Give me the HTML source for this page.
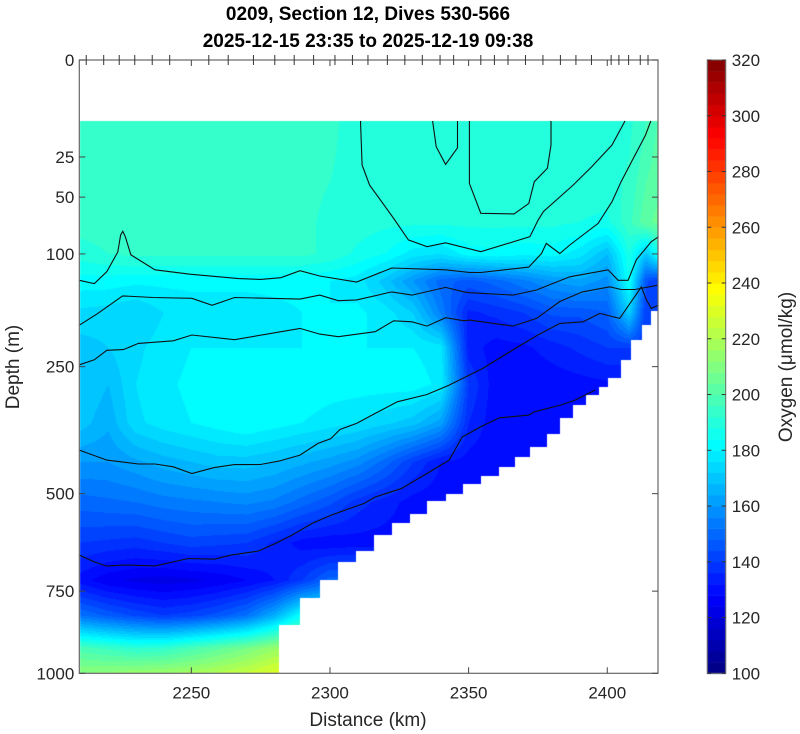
<!DOCTYPE html>
<html><head><meta charset="utf-8"><title>Oxygen section</title>
<style>
html,body{margin:0;padding:0;background:#fff;}
#wrap{position:relative;width:800px;height:734px;overflow:hidden;font-family:"Liberation Sans",sans-serif;}
#heat{position:absolute;left:0;top:0;}
#ov{position:absolute;left:0;top:0;}
</style></head>
<body>
<div id="wrap">
<canvas id="heat" width="800" height="734"></canvas>
<svg id="ov" width="800" height="734" xmlns="http://www.w3.org/2000/svg">
  <text x="368" y="20" text-anchor="middle" font-size="19" font-weight="bold" fill="#000">0209, Section 12, Dives 530-566</text>
  <text x="368" y="47" text-anchor="middle" font-size="19" font-weight="bold" fill="#000">2025-12-15 23:35 to 2025-12-19 09:38</text>
  <text x="368" y="726" text-anchor="middle" font-size="19" fill="#262626">Distance (km)</text>
  <text transform="translate(19,367) rotate(-90)" text-anchor="middle" font-size="19" fill="#262626">Depth (m)</text>
  <text transform="translate(792,367) rotate(-90)" text-anchor="middle" font-size="19" fill="#262626">Oxygen (μmol/kg)</text>
  <g id="contours"></g>
  <g id="axes"></g>
  <g id="cbar"></g>
</svg>
</div>
<script>
// ---- data ----
const distCols = [2210,2220,2230,2240,2250,2260,2270,2280,2290,2300,2310,2320,2330,2340,2350,2360,2370,2380,2390,2400,2408,2414,2418];
const depthRows = [10,40,70,100,130,170,220,280,350,430,520,620,720,820,920,1000];
const oxy10   = [194,194,194,194,194,194,194,194,194,193,190,190,190,190,190,190,190,190,190,190,191,196,200];
const oxy40   = [194,194,194,194,194,193,192,193,193,192,190,190,190,190,190,190,190,190,190,190,193,200,203];
const oxy70   = [194,194,194,194,194,193,192,192,193,191,190,189,189,189,189,189,189,189,188,187,195,203,205];
const oxy100  = [190,192,193,193,193,193,193,193,193,191,187,184,178,176,182,183,181,182,178,168,188,170,185];
const oxy130  = [182,182,181,181,181,181,181,181,181,180,178,170,160,150,146,150,155,160,163,158,185,145,140];
const oxy170  = [175,174,172,176,178,178,178,179,180,180,181,178,172,155,135,137,140,145,145,148,172,140,140];
const oxy220  = [170,172,175,178,180,180,180,180,180,180,180,180,180,178,134,130,131,134,137,140,140,140,140];
const oxy280  = [172,168,176,179,181,182,182,183,183,182,182,182,182,179,140,129,128,129,130,131,131,131,131];
const oxy350  = [170,165,175,178,180,182,184,182,180,178,176,173,170,162,136,129,128,129,129,129,129,129,129];
const oxy430  = [160,160,163,166,168,170,170,168,165,162,158,150,140,132,130,129,129,129,129,129,129,129,129];
const oxy520  = [150,151,152,154,155,156,157,155,150,145,138,134,130,129,129,129,129,129,129,129,129,129,129];
const oxy620  = [140,139,138,140,142,141,140,135,130,129,130,130,130,130,130,130,130,130,130,130,130,130,130];
const oxy720  = [130,125,123,122,123,125,128,132,140,150,150,150,150,150,150,150,150,150,150,150,150,150,150];
const oxy820  = [152,147,143,140,142,146,152,165,185,185,185,185,185,185,185,185,185,185,185,185,185,185,185];
const oxy920  = [198,195,192,193,198,203,208,215,220,220,220,220,220,220,220,220,220,220,220,220,220,220,220];
const oxy1000 = [212,213,215,216,218,221,225,230,232,232,232,232,232,232,232,232,232,232,232,232,232,232,232];
const oxyRows = [oxy10,oxy40,oxy70,oxy100,oxy130,oxy170,oxy220,oxy280,oxy350,oxy430,oxy520,oxy620,oxy720,oxy820,oxy920,oxy1000];
const bottomEdgesKm = [2281.6,2289.2,2296.3,2303,2309.4,2315.9,2322.3,2328.7,2335.1,2341.7,2348.1,2354.4,2360.8,2366.8,2372.1,2378.1,2383.1,2387.7,2392.4,2396.9,2400.4,2405.1,2408.5,2412.5,2415.8];
const bottomDepths = [1000,849,770,719,670,641,600,569,548,518,500,479,460,440,420,399,371,341,317,298,285,269,239,208,187,168];
const topDepth = 9.9;
const diveTicksKm = [2212.1,2218.4,2224,2229.6,2235.9,2242.2,2256.3,2263.3,2272.4,2280.1,2287.1,2294.1,2301.8,2308.1,2313.7,2320.7,2327,2333.3,2339.7,2344.6,2354.4,2359.3,2364.2,2370.5,2376.8,2383.1,2388.7,2394.3,2401.4,2404.2,2407.7,2411.9,2414.7];
const xTicks = [2250,2300,2350,2400];
const xTickLabels = ['2250','2300','2350','2400'];
const yTicks = [0,25,50,100,250,500,750,1000];
const yTickLabels = ['0','25','50','100','250','500','750','1000'];
const cbTicks = [100,120,140,160,180,200,220,240,260,280,300,320];
const cbTickLabels = ['100','120','140','160','180','200','220','240','260','280','300','320'];
// contour lines: distance (km) and depth (m)
const cAkm = [2209.6,2215,2219.5,2223.5,2224.5,2225.3,2226.2,2228.2,2236.9,2249.5,2267,2275,2282.3,2289.2,2296.3,2309.6,2322.3,2341.7,2350.4,2354.4,2371.7,2376.3,2378,2382.9,2386.5,2396.7,2401.7,2405,2413.8,2415.7];
const cAdep = [129,133,119,98,81.5,78,83,101,117,122,127,128,126,118,124,131,115,117,120,120,114,99.5,89.4,99.5,91,71,53.4,39.4,15,9.9];
const cUkm = [2311,2311.6,2314.3,2323,2328.3,2335,2341.7,2354.4,2372.1,2375.1,2377,2387.7,2394.4,2401.7,2406.4];
const cUdep = [9.9,29.3,41.6,66.7,86,92.7,88.8,97.7,83,68,61,41.6,30.3,19.2,9.9];
const cIkm = [2350.3,2350.3,2354.4,2366.4,2371.7,2373.7,2378.4,2379.7,2379.7];
const cIdep = [9.9,40.5,62.5,63,54.7,39.4,31.2,19.2,9.9];
const cVkm = [2337,2338.3,2341.7,2346,2346];
const cVdep = [9.9,20,29,20.5,9.9];
const cBkm = [2209.6,2216.2,2225.2,2236.2,2250.2,2257.5,2265.6,2289.2,2296.3,2303,2309.6,2322.3,2329.6,2341.7,2348.4,2350.4,2366,2374.5,2386.5,2400.3,2403.9,2407.5,2410.5,2415.9,2418.5];
const cBdep = [187,171,148,150,151,160,150,152,147,154,153,143,147,137.5,143,144,147,140.7,125,117,129,129,106,87.8,83];
const cCkm = [2209.6,2215,2219.5,2225.5,2230.9,2243.5,2250.2,2265.6,2289.2,2296.3,2303,2316.3,2323,2329.6,2335,2341.7,2348.4,2350.4,2366,2374.5,2382.9,2391,2400.9,2405,2410,2418];
const cCdep = [247,239,224,223,213.5,209.7,201,208,191.5,199.7,203.6,196.3,180.8,182.2,188.3,176.6,180.8,179.8,188.3,177.5,155,143,136.7,140,140,135];
const cDkm = [2209.6,2219.5,2230.9,2236.9,2243.5,2250.2,2258.2,2265.6,2274.9,2281.6,2289.2,2295.6,2300.3,2303.6,2309.6,2316.3,2324.3,2335,2343,2355,2367.7,2375,2382.9,2391.3,2397.3,2404.5,2412.3,2414.1,2415.9,2418.5];
const cDdep = [404.5,425.6,434,434,440,454.6,441.8,435.2,435,427.7,415,391,381,363,351,332,310.6,297.5,281,253,219,201,184.4,182.2,170.7,177.5,136.7,153,164,159.7];
const cEkm = [2209.6,2215,2219.5,2225.5,2236.9,2248.9,2258.2,2264.3,2274.2,2280.3,2286.3,2293.6,2300.3,2312.3,2316.3,2325.6,2335,2343,2347.7,2354.4,2361.1,2371.7,2373.7,2383.1,2388.4,2395.7];
const cEdep = [651.6,669.8,681,678,680.5,660.6,662.4,651.6,641,621.6,600,570.8,551,522.6,507.6,488.6,454.6,425.6,377.8,357.7,340.3,335.2,329,316.6,307.5,289.6];

// ---- axes ----
const PX0=79.3, PX1=658, PY0=60, PY1=673.3, KM0=2209.6, KM1=2418.3;
function xScale(km){return PX0+(km-KM0)/(KM1-KM0)*(PX1-PX0);}
function yScale(d){return PY0+Math.sqrt(Math.max(d,0))/Math.sqrt(1000)*(PY1-PY0);}
function invX(px){return KM0+(px-PX0)/(PX1-PX0)*(KM1-KM0);}
function invY(py){const s=(py-PY0)/(PY1-PY0)*Math.sqrt(1000);return s*s;}
const CBX0=707.3, CBX1=725.7, CBY0=60, CBY1=673.3, VMIN=100, VMAX=320;
function cbScale(v){return CBY1-(v-VMIN)/(VMAX-VMIN)*(CBY1-CBY0);}
function jet(t){const c=x=>Math.max(0,Math.min(1,x));
  return [c(1.5-Math.abs(4*t-3)),c(1.5-Math.abs(4*t-2)),c(1.5-Math.abs(4*t-1))].map(v=>Math.round(v*255));}
const NLEV=55;
function colorFor(v){let l=Math.floor((v-VMIN)/(VMAX-VMIN)*NLEV);l=Math.max(0,Math.min(NLEV-1,l));return jet((l+0.5)/NLEV);}
function locate(arr,v){if(v<=arr[0])return [0,0];if(v>=arr[arr.length-1])return [arr.length-2,1];
  for(let i=0;i<arr.length-1;i++){if(v<=arr[i+1])return [i,(v-arr[i])/(arr[i+1]-arr[i])];}}
function field(km,d){const [ci,cf]=locate(distCols,km);const [ri,rf]=locate(depthRows,d);
  const a=oxyRows[ri][ci],b=oxyRows[ri][ci+1],c=oxyRows[ri+1][ci],e=oxyRows[ri+1][ci+1];
  return (a*(1-cf)+b*cf)*(1-rf)+(c*(1-cf)+e*cf)*rf;}
function bottomAt(km){for(let i=0;i<bottomEdgesKm.length;i++){if(km<bottomEdgesKm[i])return bottomDepths[i];}return bottomDepths[bottomDepths.length-1];}

// heatmap
const cv=document.getElementById('heat');const ctx=cv.getContext('2d');
ctx.fillStyle='#fff';ctx.fillRect(0,0,800,734);
const x0=Math.ceil(PX0),x1=Math.floor(PX1),y0=Math.ceil(PY0),y1=Math.floor(PY1);
const img=ctx.createImageData(x1-x0,y1-y0);
for(let py=y0;py<y1;py++){const d=invY(py+0.5);
  for(let px=x0;px<x1;px++){const km=invX(px+0.5);const k=((py-y0)*(x1-x0)+(px-x0))*4;
    if(d<topDepth||d>bottomAt(km)){img.data[k]=255;img.data[k+1]=255;img.data[k+2]=255;img.data[k+3]=255;continue;}
    const col=colorFor(field(km,d));img.data[k]=col[0];img.data[k+1]=col[1];img.data[k+2]=col[2];img.data[k+3]=255;}}
ctx.putImageData(img,x0,y0);
// colorbar
for(let l=0;l<NLEV;l++){const v0=VMIN+l*(VMAX-VMIN)/NLEV,v1=VMIN+(l+1)*(VMAX-VMIN)/NLEV;const c=jet((l+0.5)/NLEV);
  ctx.fillStyle='rgb('+c[0]+','+c[1]+','+c[2]+')';const ya=cbScale(v1),yb=cbScale(v0);
  ctx.fillRect(CBX0,ya,CBX1-CBX0,yb-ya+0.5);}

const NS='http://www.w3.org/2000/svg';
function mk(tag,attrs,parent){const e=document.createElementNS(NS,tag);for(const k in attrs)e.setAttribute(k,attrs[k]);parent.appendChild(e);return e;}
// contours
const cg=document.getElementById('contours');
const lines=[[cAkm,cAdep,'contour-a'],[cUkm,cUdep,'contour-upper-loop'],[cIkm,cIdep,'contour-inner-loop'],[cVkm,cVdep,'contour-v'],[cBkm,cBdep,'contour-b'],[cCkm,cCdep,'contour-c'],[cDkm,cDdep,'contour-d'],[cEkm,cEdep,'contour-e']];
lines.forEach(([ks,ds,name])=>{
  const pts=ks.map((k,i)=>xScale(k).toFixed(1)+','+yScale(ds[i]).toFixed(1)).join(' ');
  const pl=mk('polyline',{points:pts,fill:'none',stroke:'#111',"stroke-width":'1.1'},cg);
  
  
});
// axes
const ag=document.getElementById('axes');
const box=mk('rect',{x:PX0,y:PY0,width:PX1-PX0,height:PY1-PY0,fill:'none',stroke:'#666','stroke-width':'1.2'},ag);


xTicks.forEach((t,i)=>{const x=xScale(t);
  mk('line',{x1:x,y1:PY1,x2:x,y2:PY1-6,stroke:'#444','stroke-width':'1'},ag);
  mk('line',{x1:x,y1:PY0,x2:x,y2:PY0+6,stroke:'#444','stroke-width':'1'},ag);
  const tx=mk('text',{x:x,y:PY1+25,'text-anchor':'middle','font-size':'17',fill:'#262626'},ag);tx.textContent=xTickLabels[i];
  
  
});
yTicks.forEach((t,i)=>{const y=yScale(t);
  mk('line',{x1:PX0,y1:y,x2:PX0+6,y2:y,stroke:'#444','stroke-width':'1'},ag);
  mk('line',{x1:PX1,y1:y,x2:PX1-6,y2:y,stroke:'#444','stroke-width':'1'},ag);
  const tx=mk('text',{x:PX0-5,y:y+6,'text-anchor':'end','font-size':'17',fill:'#262626'},ag);tx.textContent=yTickLabels[i];
  
  
});
diveTicksKm.forEach(k=>{const x=xScale(k);
  const ln=mk('line',{x1:x,y1:PY0-5,x2:x,y2:PY0+5,stroke:'#333','stroke-width':'1'},ag);
  
  
});
// colorbar frame & ticks
const cbg=document.getElementById('cbar');
const cbf=mk('rect',{x:CBX0,y:CBY0,width:CBX1-CBX0,height:CBY1-CBY0,fill:'none',stroke:'#666','stroke-width':'1'},cbg);


cbTicks.forEach((t,i)=>{const y=cbScale(t);
  mk('line',{x1:CBX0,y1:y,x2:CBX0+4,y2:y,stroke:'#333','stroke-width':'1'},cbg);
  mk('line',{x1:CBX1,y1:y,x2:CBX1-4,y2:y,stroke:'#333','stroke-width':'1'},cbg);
  const tx=mk('text',{x:CBX1+6,y:y+6,'font-size':'17',fill:'#262626'},cbg);tx.textContent=cbTickLabels[i];
  
  
});
</script>
</body></html>
